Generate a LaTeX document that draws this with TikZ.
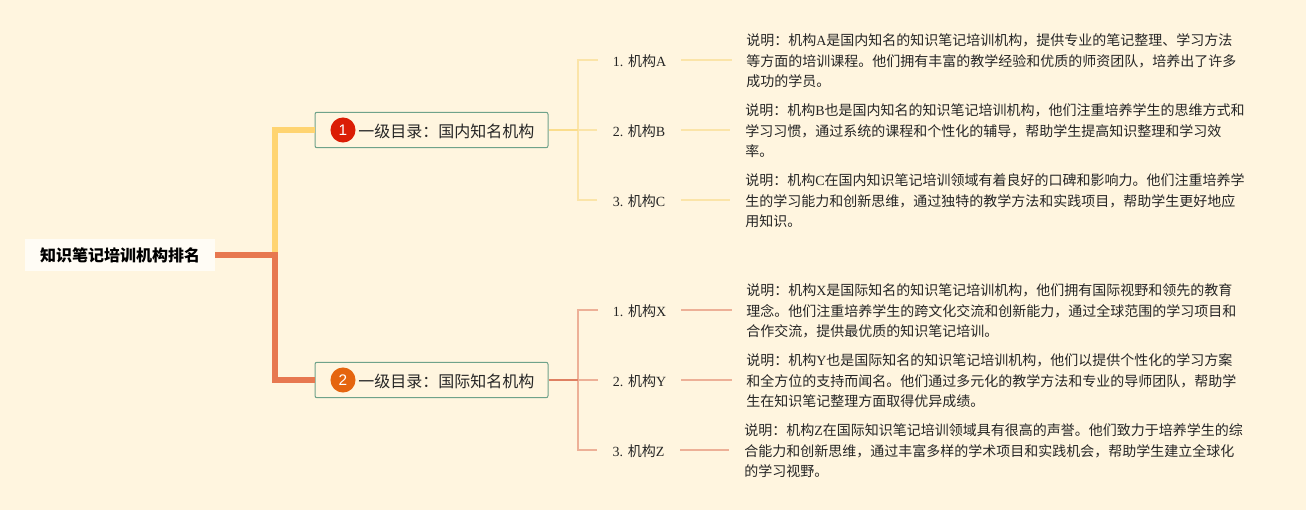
\documentclass[tikz,border=0pt]{standalone}
\usepackage{fontspec}
\setmainfont{Noto Sans CJK SC}
\newfontfamily\latinserif{Liberation Serif}
\newfontfamily\latinsans{Liberation Sans}
\newcommand{\lat}[1]{{\latinserif #1}}
\newcommand{\fcl}{\symbol{"FF1A}}
\newcommand{\fcm}{\symbol{"FF0C}}
\definecolor{bgc}{HTML}{FFF5DF}
\definecolor{rootc}{HTML}{FFFCF5}
\definecolor{yelc}{HTML}{FFD471}
\definecolor{yelm}{HTML}{FBDD8C}
\definecolor{yell}{HTML}{FBE4A8}
\definecolor{orac}{HTML}{E77850}
\definecolor{oram}{HTML}{DF8062}
\definecolor{oral}{HTML}{EDB097}
\definecolor{boxc}{HTML}{6FA28A}
\definecolor{txt}{HTML}{262626}
\definecolor{badgea}{HTML}{DB1D05}
\definecolor{badgeb}{HTML}{E5650F}
\tikzset{
  x=0.75pt,y=-0.75pt,
  rootbox/.style={fill=rootc,draw=none,minimum width=142.5pt,minimum height=24pt,inner sep=0pt,font=\fontsize{12}{14}\selectfont\bfseries,text=black},
  topicbox/.style={fill=bgc,draw=boxc,line width=0.75pt,rounded corners=1.5pt,minimum width=174.75pt,minimum height=26.6pt,inner sep=0pt},
  topictext/.style={inner sep=0pt,font=\fontsize{12}{14}\selectfont,text=txt,anchor=west},
  badge/.style={circle,minimum size=18.8pt,inner sep=0pt,text=white,font=\fontsize{11.5}{12}\selectfont\latinsans},
  leaf/.style={minimum width=62.5pt,text height=10pt,text depth=0.5pt,inner sep=0pt,font=\fontsize{10.5}{12}\selectfont,text=txt},
  desc/.style={anchor=west,inner sep=0pt,align=left,font=\fontsize{10.5}{15.4}\selectfont,text=txt},
  mainy/.style={draw=yelc,line width=4.1pt},
  maino/.style={draw=orac,line width=4.1pt},
  busy/.style={draw=yell,line width=1.2pt},
  buso/.style={draw=oral,line width=1.2pt},
  stemy/.style={draw=yelm,line width=1.6pt},
  stemo/.style={draw=oram,line width=1.6pt},
}
\begin{document}
\begin{tikzpicture}
\useasboundingbox[fill=bgc] (0,0) rectangle (1306,510);
% nodes
\node[rootbox] (root) at (120,255) {知识笔记培训机构排名};
\node[topicbox] (t1) at (431.5,130) {};
\node[topicbox] (t2) at (431.5,380) {};
\node[badge,fill=badgea] (b1) at (343,130) {1};
\node[badge,fill=badgeb] (b2) at (343,380) {2};
\node[topictext] (tt1) at (358,131) {一级目录\fcl 国内知名机构};
\node[topictext] (tt2) at (358,381) {一级目录\fcl 国际知名机构};
\coordinate (fork) at (275,255);
\coordinate (bus1) at (578,130);
\coordinate (bus2) at (578,380);
\coordinate (ea) at (732,60);
\coordinate (eb) at (730,130);
\coordinate (ec) at (730,200);
\coordinate (ex) at (732,310);
\coordinate (ey) at (732,380);
\coordinate (ez) at (729,450);
\node[leaf] (a) at (639.5,60) {\lat{1. }机构\lat{A}};
\node[leaf] (b) at (639,130) {\lat{2. }机构\lat{B}};
\node[leaf] (c) at (639,200) {\lat{3. }机构\lat{C}};
\node[leaf] (x) at (639.5,310) {\lat{1. }机构\lat{X}};
\node[leaf] (y) at (639.5,380) {\lat{2. }机构\lat{Y}};
\node[leaf] (z) at (638.5,450) {\lat{3. }机构\lat{Z}};
\node[desc] (da) at (746,61) {说明\fcl 机构\lat{A}是国内知名的知识笔记培训机构\fcm 提供专业的笔记整理、学习方法\\等方面的培训课程。他们拥有丰富的教学经验和优质的师资团队\fcm 培养出了许多\\成功的学员。};
\node[desc] (db) at (745,131) {说明\fcl 机构\lat{B}也是国内知名的知识笔记培训机构\fcm 他们注重培养学生的思维方式和\\学习习惯\fcm 通过系统的课程和个性化的辅导\fcm 帮助学生提高知识整理和学习效\\率。};
\node[desc] (dc) at (745,201) {说明\fcl 机构\lat{C}在国内知识笔记培训领域有着良好的口碑和影响力。他们注重培养学\\生的学习能力和创新思维\fcm 通过独特的教学方法和实践项目\fcm 帮助学生更好地应\\用知识。};
\node[desc] (dx) at (746,311) {说明\fcl 机构\lat{X}是国际知名的知识笔记培训机构\fcm 他们拥有国际视野和领先的教育\\理念。他们注重培养学生的跨文化交流和创新能力\fcm 通过全球范围的学习项目和\\合作交流\fcm 提供最优质的知识笔记培训。};
\node[desc] (dy) at (746,381) {说明\fcl 机构\lat{Y}也是国际知名的知识笔记培训机构\fcm 他们以提供个性化的学习方案\\和全方位的支持而闻名。他们通过多元化的教学方法和专业的导师团队\fcm 帮助学\\生在知识笔记整理方面取得优异成绩。};
\node[desc] (dz) at (744,451) {说明\fcl 机构\lat{Z}在国际知识笔记培训领域具有很高的声誉。他们致力于培养学生的综\\合能力和创新思维\fcm 通过丰富多样的学术项目和实践机会\fcm 帮助学生建立全球化\\的学习视野。};
% main connectors
\draw[mainy] (fork) -- (fork |- t1.west) -- (t1.west);
\draw[maino] (root.east) -- (fork) -- (fork |- t2.west) -- (t2.west);
% yellow branch
\draw[busy] (a.west) -- (a.west -| bus1) -- (c.west -| bus1) -- (c.west);
\draw[busy] (bus1) -- (b.west);
\draw[stemy] (t1.east) -- (bus1);
\draw[busy] (a.east) -- (ea);
\draw[busy] (b.east) -- (eb);
\draw[busy] (c.east) -- (ec);
% orange branch
\draw[buso] (x.west) -- (x.west -| bus2) -- (z.west -| bus2) -- (z.west);
\draw[buso] (bus2) -- (y.west);
\draw[stemo] (t2.east) -- (bus2);
\draw[buso] (x.east) -- (ex);
\draw[buso] (y.east) -- (ey);
\draw[buso] (z.east) -- (ez);
\end{tikzpicture}
\end{document}
